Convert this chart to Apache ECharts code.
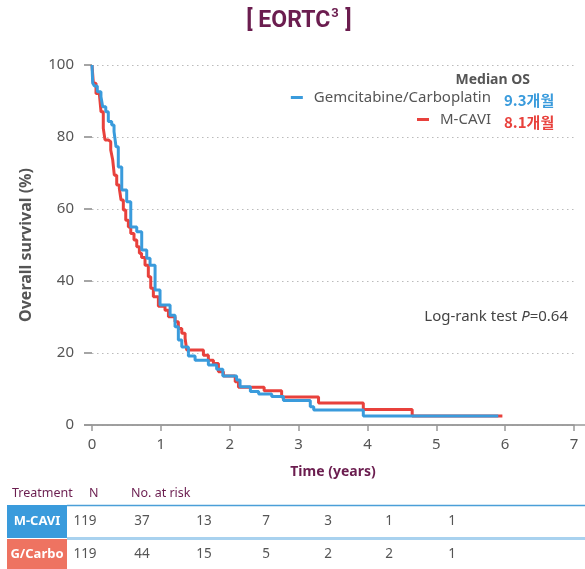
<!DOCTYPE html>
<html>
<head>
<meta charset="utf-8">
<script src="https://cdn.jsdelivr.net/npm/echarts@6/dist/echarts.min.js"></script>
<style>html,body{margin:0;padding:0;background:#fff;}#c{width:585px;height:569px;}</style>
</head>
<body>
<div id="c"></div>
<script>
// Kaplan-Meier step points (time in years, survival %)
const gcT = [0, 0.01, 0.033, 0.077, 0.13, 0.155, 0.2, 0.237, 0.286, 0.32, 0.349, 0.382, 0.432, 0.504, 0.563, 0.65, 0.722, 0.795, 0.843, 0.916, 0.988, 1.134, 1.206, 1.254, 1.304, 1.4, 1.497, 1.69, 1.81, 1.9, 2.1, 2.15, 2.3, 2.42, 2.61, 2.78, 3.17, 3.22, 3.94, 5.9];
const gcS = [100, 95, 94.2, 92.6, 91.2, 88.4, 87, 84.3, 83.3, 81.5, 77.3, 71.7, 65.3, 62, 55, 53.7, 48.6, 46.3, 44.4, 37.5, 33.3, 30.5, 27.3, 23.6, 21.7, 19.2, 18, 16.7, 15.5, 13.6, 12.5, 10.6, 9.3, 8.6, 7.9, 6.8, 5.1, 4.2, 2.5, 2.5];
const mcT = [0, 0.02, 0.058, 0.106, 0.131, 0.164, 0.189, 0.237, 0.272, 0.301, 0.324, 0.359, 0.397, 0.422, 0.455, 0.49, 0.528, 0.563, 0.61, 0.65, 0.688, 0.72, 0.77, 0.818, 0.853, 0.891, 0.964, 1.06, 1.11, 1.206, 1.254, 1.304, 1.352, 1.376, 1.618, 1.69, 1.763, 1.836, 1.908, 2.08, 2.127, 2.5, 2.754, 3.29, 3.94, 4.65, 5.96];
const mcS = [100, 94.9, 92.1, 91.7, 87, 82.4, 79.2, 78.7, 76.4, 73.6, 69.4, 66.7, 65.7, 62.5, 59.7, 56.9, 55, 53.2, 51.4, 49.5, 47.7, 46.5, 44.4, 41.2, 38, 35.6, 33, 31.9, 30.1, 28.7, 26.8, 25.5, 24.1, 20.8, 19.4, 18, 17.1, 14.8, 13.6, 12, 10.5, 9.5, 7.8, 6.1, 4.3, 2.5, 2.5];

const seriesNames = ['Gemcitabine/Carboplatin', 'M-CAVI'];
const medianLabels = ['9.3개월', '8.1개월'];
const xTicks = [0, 1, 2, 3, 4, 5, 6, 7];

// Risk table
const riskRows = ['M-CAVI', 'G/Carbo'];
const riskN = ['119', '119'];
const riskMCAVI = ['37', '13', '7', '3', '1', '1'];
const riskGCarbo = ['44', '15', '5', '2', '2', '1'];

const BLUE = '#3a9bdc';
const RED = '#e8413c';
const PURPLE = '#6b1d4f';
const GRAY = '#555';

const zip = (a, b) => a.map((v, i) => [v, b[i]]);

const chart = echarts.init(document.getElementById('c'));

const riskCols = [142, 204, 266, 328, 389, 452];
const graphics = [];
// extended x-axis baseline
graphics.push({type: 'line', shape: {x1: 84, y1: 425, x2: 585, y2: 425}, style: {stroke: '#999', lineWidth: 1.5}, z: 1});
// title
graphics.push({type: 'text', x: 299, y: 21, style: {
  text: '{a|[ EORTC}{s|3}{a| ]}', align: 'center', verticalAlign: 'middle',
  rich: {a: {fontSize: 23, fontWeight: 'bold', fill: PURPLE, fontFamily: 'Roboto'},
         s: {fontSize: 13, fontWeight: 'bold', fill: PURPLE, fontFamily: 'Roboto', verticalAlign: 'top', padding: [0,1,14,1]}}
}});
// Median OS
graphics.push({type: 'text', x: 530, y: 80, style: {text: 'Median OS', fontSize: 14, fontWeight: 'bold', fill: GRAY, fontFamily: 'Noto Sans', align: 'right', verticalAlign: 'middle'}});
graphics.push({type: 'text', x: 504, y: 100, style: {text: medianLabels[0], fontSize: 15, fontWeight: 'bold', fill: BLUE, fontFamily: 'Noto Sans CJK KR', align: 'left', verticalAlign: 'middle'}});
graphics.push({type: 'text', x: 504, y: 122, style: {text: medianLabels[1], fontSize: 15, fontWeight: 'bold', fill: RED, fontFamily: 'Noto Sans CJK KR', align: 'left', verticalAlign: 'middle'}});
// Log-rank
graphics.push({type: 'text', x: 568, y: 317, style: {
  text: '{a|Log-rank test }{i|P}{a|=0.64}', align: 'right', verticalAlign: 'middle',
  rich: {a: {fontSize: 15, fill: '#444', fontFamily: 'Noto Sans'}, i: {fontSize: 15, fill: '#444', fontStyle: 'italic', fontFamily: 'Noto Sans'}}
}});
// Risk table header
const hdr = {fontSize: 12.5, fill: PURPLE, fontFamily: 'Noto Sans', verticalAlign: 'middle'};
graphics.push({type: 'text', x: 12, y: 493, style: Object.assign({text: 'Treatment'}, hdr)});
graphics.push({type: 'text', x: 89, y: 493, style: Object.assign({text: 'N'}, hdr)});
graphics.push({type: 'text', x: 131, y: 493, style: Object.assign({text: 'No. at risk'}, hdr)});
// rows
graphics.push({type: 'rect', shape: {x: 7, y: 505, width: 60, height: 33}, style: {fill: BLUE}});
graphics.push({type: 'rect', shape: {x: 7, y: 539, width: 60, height: 30}, style: {fill: '#ee7361'}});
graphics.push({type: 'line', shape: {x1: 67, y1: 505.5, x2: 585, y2: 505.5}, style: {stroke: '#4a9fd8', lineWidth: 1.5}});
graphics.push({type: 'line', shape: {x1: 67, y1: 538.5, x2: 585, y2: 538.5}, style: {stroke: '#a9d2ef', lineWidth: 3}});
const rowY = [521, 554];
const rowVals = [riskMCAVI, riskGCarbo];
riskRows.forEach((r, i) => {
  graphics.push({type: 'text', x: 37, y: rowY[i], style: {text: r, fontSize: 13, fontWeight: 'bold', fill: '#fff', fontFamily: 'Noto Sans', align: 'center', verticalAlign: 'middle'}});
  graphics.push({type: 'text', x: 85, y: rowY[i], style: {text: riskN[i], fontSize: 13.5, fill: GRAY, fontFamily: 'Noto Sans', align: 'center', verticalAlign: 'middle'}});
  rowVals[i].forEach((v, j) => {
    graphics.push({type: 'text', x: riskCols[j], y: rowY[i], style: {text: v, fontSize: 13.5, fill: GRAY, fontFamily: 'Noto Sans', align: 'center', verticalAlign: 'middle'}});
  });
});

const option = {
  animation: false,
  backgroundColor: '#fff',
  grid: {left: 92, right: 11, top: 65, bottom: 144, containLabel: false},
  legend: [
    {data: [seriesNames[0]], right: 94, top: 90, padding: 0, icon: 'rect', itemWidth: 12, itemHeight: 3, itemGap: 0,
     textStyle: {fontSize: 15, color: GRAY, fontFamily: 'Noto Sans', padding: [0, 0, 0, 6]}},
    {data: [seriesNames[1]], right: 94, top: 112, padding: 0, icon: 'rect', itemWidth: 12, itemHeight: 3, itemGap: 0,
     textStyle: {fontSize: 15, color: GRAY, fontFamily: 'Noto Sans', padding: [0, 0, 0, 6]}}
  ],
  xAxis: {
    type: 'value', min: 0, max: 7, interval: 1,
    name: 'Time (years)', nameLocation: 'middle', nameGap: 40,
    nameTextStyle: {fontSize: 14, fontWeight: 'bold', color: PURPLE, fontFamily: 'Noto Sans'},
    axisLine: {show: true, lineStyle: {color: '#999', width: 1.5}},
    axisTick: {show: true, length: 6, lineStyle: {color: '#999', width: 1.5}},
    axisLabel: {fontSize: 15, color: GRAY, fontFamily: 'Noto Sans', margin: 12,
      formatter: v => xTicks.includes(v) ? String(v) : ''},
    splitLine: {show: false}
  },
  yAxis: {
    type: 'value', min: 0, max: 100, interval: 20,
    name: 'Overall survival (%)', nameLocation: 'middle', nameGap: 58, nameRotate: 90,
    nameTextStyle: {fontSize: 16, fontWeight: 'bold', color: GRAY, fontFamily: 'Noto Sans'},
    axisLine: {show: false},
    axisTick: {show: true, inside: false, length: 8, lineStyle: {color: '#888', width: 1.5}},
    axisLabel: {fontSize: 15, color: GRAY, fontFamily: 'Noto Sans', margin: 18},
    splitLine: {show: true, lineStyle: {color: '#bbb', type: [1.5, 3.5], width: 1}}
  },
  series: [
    {name: seriesNames[1], type: 'line', step: 'end', showSymbol: false, symbol: 'none',
     data: zip(mcT, mcS), lineStyle: {color: RED, width: 3}, itemStyle: {color: RED}, z: 2},
    {name: seriesNames[0], type: 'line', step: 'end', showSymbol: false, symbol: 'none',
     data: zip(gcT, gcS), lineStyle: {color: BLUE, width: 3}, itemStyle: {color: BLUE}, z: 3}
  ],
  graphic: graphics
};
chart.setOption(option);
</script>
</body>
</html>
